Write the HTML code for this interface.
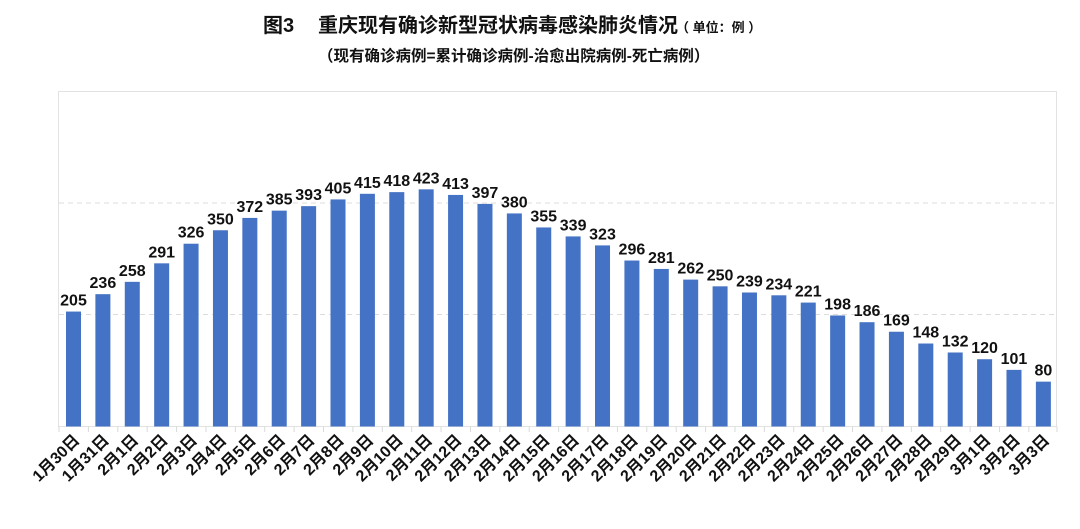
<!DOCTYPE html>
<html><head><meta charset="utf-8"><style>
body{margin:0;background:#fff;}
svg text{font-family:"Liberation Sans","Noto Sans CJK SC",sans-serif;font-weight:bold;fill:#111;}
</style></head><body>
<svg width="1080" height="524" xmlns="http://www.w3.org/2000/svg">
<text x="263" y="32" font-size="20">图3</text>
<text x="318" y="32" font-size="20">重庆现有确诊新型冠状病毒感染肺炎情况</text>
<text x="676" y="32" font-size="13">（ 单位：例 ）</text>
<text x="318" y="61" font-size="15.5">（现有确诊病例=累计确诊病例-治愈出院病例-死亡病例）</text>
<rect x="58.5" y="91.5" width="998" height="335" fill="none" stroke="#e2e2e2"/>
<line x1="59" y1="203" x2="1056" y2="203" stroke="#dcdcdc" stroke-dasharray="5,4"/>
<line x1="59" y1="314.5" x2="1056" y2="314.5" stroke="#dcdcdc" stroke-dasharray="5,4"/>
<g id="g"></g>
</svg>
<script>
const v=[205,236,258,291,326,350,372,385,393,405,415,418,423,413,397,380,355,339,323,296,281,262,250,239,234,221,198,186,169,148,132,120,101,80];
const l=["1月30日","1月31日","2月1日","2月2日","2月3日","2月4日","2月5日","2月6日","2月7日","2月8日","2月9日","2月10日","2月11日","2月12日","2月13日","2月14日","2月15日","2月16日","2月17日","2月18日","2月19日","2月20日","2月21日","2月22日","2月23日","2月24日","2月25日","2月26日","2月27日","2月28日","2月29日","3月1日","3月2日","3月3日"];
const s=0.5607,b=426.5,w=29.39;let h="";
for(let i=0;i<34;i++){const c=73.5+i*w,t=b-v[i]*s;
h+=`<rect x="${c-7.5}" y="${t}" width="15" height="${b-t}" fill="#4472c4"/>`;
h+=`<text x="${c}" y="${t-6}" font-size="16" text-anchor="middle">${v[i]}</text>`;
h+=`<line x1="${59+i*w}" y1="426.5" x2="${59+i*w}" y2="432" stroke="#d9d9d9"/>`;
h+=`<text transform="translate(${c+7},${441}) rotate(-45)" font-size="16" text-anchor="end">${l[i]}</text>`;}
h+=`<line x1="1057" y1="426.5" x2="1057" y2="432" stroke="#d9d9d9"/>`;
document.getElementById("g").innerHTML=h;
</script>
</body></html>
